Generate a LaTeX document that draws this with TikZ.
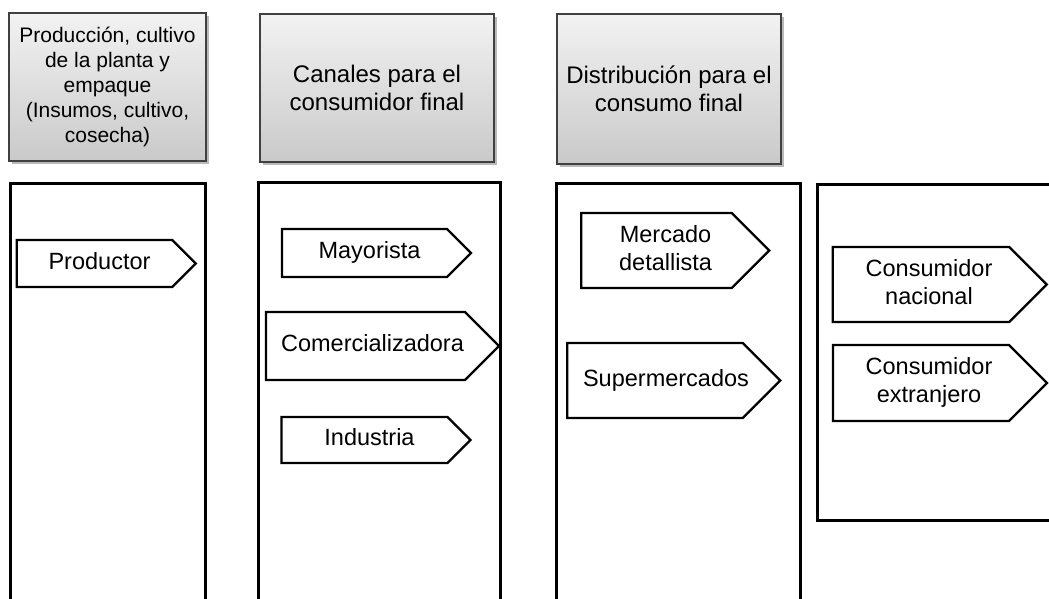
\documentclass[tikz,border=0pt]{standalone}
\usepackage{fontspec}
\setmainfont{Liberation Sans}
\usetikzlibrary{shapes.symbols,shadows}

% texto de las flechas, algo corrido hacia la punta
\newcommand{\texto}[2][8pt]{\begin{tabular}{@{\hspace{#1}}c@{\hspace{-#1}}}#2\end{tabular}}

\tikzset{
  encabezado/.style={draw=black!75, line width=1.2pt, top color=gray!10, bottom color=gray!42,
    drop shadow={shadow xshift=3pt, shadow yshift=-3pt, opacity=0.55},
    align=center, inner sep=2pt, font=\fontsize{24}{28}\selectfont},
  columna/.style={draw, line width=2.6pt, anchor=north west},
  flecha/.style={signal, signal to=east, signal pointer angle=90, draw, line width=2.4pt,
    fill=white, inner sep=0pt, font=\fontsize{23.5}{28}\selectfont},
}

\begin{document}
\begin{tikzpicture}[x=1pt,y=1pt]
\useasboundingbox (0,0) rectangle (1049,-598);
\clip (0,0) rectangle (1049,-598);

% encabezados
\node[encabezado, minimum width=197, minimum height=148, font=\fontsize{21}{25}\selectfont] (enc1) at (107.5,-87)
  {Producción, cultivo\\de la planta y\\empaque\\(Insumos, cultivo,\\cosecha)};
\node[encabezado, minimum width=234, minimum height=148] (enc2) at (377,-88) {Canales para el\\consumidor final};
\node[encabezado, minimum width=224, minimum height=150] (enc3) at (669,-89) {Distribución para el\\consumo final};

% columnas
\node[columna, minimum width=195, minimum height=460] (col1) at (9,-182) {};
\node[columna, minimum width=242, minimum height=460] (col2) at (257,-181) {};
\node[columna, minimum width=244, minimum height=460] (col3) at (555,-182) {};
\node[columna, minimum width=270, minimum height=336] (col4) at (816,-183) {};

% flechas
\node[flecha, minimum width=179, minimum height=47] (prod) at (94.5,-263.5) {\texto[5pt]{Productor}};

\node[flecha, minimum width=189, minimum height=48] (may) at (364.5,-253) {\texto[5pt]{Mayorista}};
\node[flecha, minimum width=233, minimum height=68] (com) at (365.5,-346) {\texto[7pt]{Comercializadora}};
\node[flecha, minimum width=189, minimum height=46] (ind) at (364.5,-440) {\texto[5pt]{Industria}};

\node[flecha, minimum width=188, minimum height=75] (merc) at (656.5,-250.5) {\texto[9pt]{Mercado\\detallista}};
\node[flecha, minimum width=213, minimum height=75] (super) at (655,-380.5) {\texto[11pt]{Supermercados}};

\node[flecha, minimum width=214, minimum height=75] (nac) at (921,-284.5) {\texto{Consumidor\\nacional}};
\node[flecha, minimum width=214, minimum height=76] (ext) at (921,-383) {\texto{Consumidor\\extranjero}};

\end{tikzpicture}
\end{document}
